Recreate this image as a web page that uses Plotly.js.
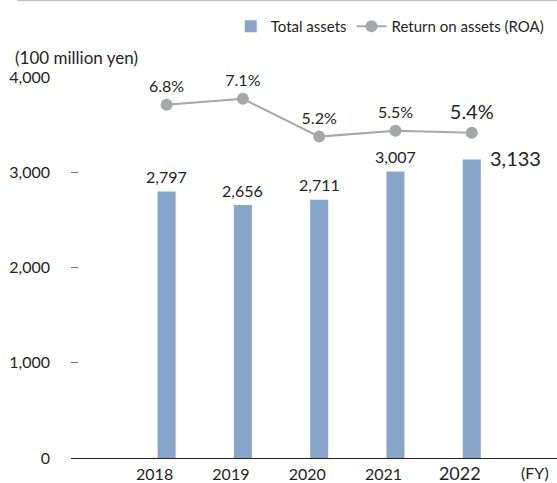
<!DOCTYPE html>
<html>
<head>
<meta charset="utf-8">
<script src="https://cdn.plot.ly/plotly-3.0.1.min.js"></script>
<style>html,body{margin:0;padding:0;background:#fff;}#chart{width:557px;height:483px;}</style>
</head>
<body>
<div id="chart"></div>
<script>
const years = ['2018', '2019', '2020', '2021', '2022'];
const totalAssets = [2797, 2656, 2711, 3007, 3133];
const roa = [6.8, 7.1, 5.2, 5.5, 5.4];
const yTickVals = [0, 1000, 2000, 3000, 4000];
const yTickLabels = ['0', '1,000', '2,000', '3,000', '4,000'];
const xTickLabels = ['2018', '2019', '2020', '2021', '<span style="font-size:18px">2022</span>'];

const FONT = 'Lato, "Open Sans", sans-serif';
const TXT = '#231f20';
const BAR = '#87a5cb';
const GREY = '#a6a7a9';

const fmt = v => String(v).replace(/\B(?=(\d{3})+(?!\d))/g, ',');
const last = years.length - 1;

const annotations = [];
years.forEach(function (yr, i) {
  if (i < last) {
    annotations.push({
      x: i, y: totalAssets[i], xref: 'x', yref: 'y',
      text: fmt(totalAssets[i]), showarrow: false,
      xanchor: 'center', yanchor: 'middle', yshift: 15,
      font: {family: FONT, size: 16, color: TXT}
    });
  } else {
    annotations.push({
      x: i, y: totalAssets[i], xref: 'x', yref: 'y',
      text: fmt(totalAssets[i]), showarrow: false,
      xanchor: 'left', yanchor: 'middle', xshift: 16, yshift: 2,
      font: {family: FONT, size: 20, color: TXT}
    });
  }
});

annotations.push({
  xref: 'paper', yref: 'paper', x: -0.119, y: 1.05, xanchor: 'left', yanchor: 'middle',
  text: '(100 million yen)', showarrow: false,
  font: {family: FONT, size: 17, color: TXT}
});
annotations.push({
  xref: 'paper', yref: 'paper', x: 0.986, y: -0.038, xanchor: 'right', yanchor: 'middle',
  text: '(FY)', showarrow: false, borderpad: 0,
  font: {family: FONT, size: 16, color: TXT}
});

const traces = [
  {
    type: 'bar', name: 'Total assets',
    x: years, y: totalAssets,
    width: 0.236,
    marker: {color: BAR},
    hoverinfo: 'skip'
  },
  {
    type: 'scatter', mode: 'lines+markers+text', name: 'Return on assets (ROA)',
    x: years, y: roa, yaxis: 'y2',
    line: {color: GREY, width: 2},
    marker: {color: GREY, size: 12},
    text: roa.map(v => v.toFixed(1) + '%'),
    textposition: 'top center',
    textfont: {family: FONT, size: roa.map((v, i) => i === last ? 20 : 16), color: TXT},
    cliponaxis: false,
    hoverinfo: 'skip'
  }
];

const layout = {
  width: 557, height: 483,
  margin: {l: 71, r: 0, t: 77, b: 25},
  paper_bgcolor: '#fff', plot_bgcolor: '#fff',
  font: {family: FONT, size: 16, color: TXT},
  showlegend: true,
  legend: {
    orientation: 'h', x: 0.983, xanchor: 'right', y: 1.176, yanchor: 'top',
    font: {family: FONT, size: 15, color: TXT},
    traceorder: 'normal', itemwidth: 30, tracegroupgap: 0,
    bgcolor: 'rgba(0,0,0,0)'
  },
  xaxis: {
    type: 'category', range: [-1.253, 5.117],
    showgrid: false, zeroline: false,
    showline: true, linecolor: '#231f20', linewidth: 1.2,
    ticks: '', tickvals: years, ticktext: xTickLabels,
    ticklabelshift: -12, ticklabelstandoff: 2,
    tickfont: {family: FONT, size: 16, color: TXT},
    fixedrange: true
  },
  yaxis: {
    range: [0, 4000],
    tickvals: yTickVals, ticktext: yTickLabels,
    ticks: 'inside', ticklen: 7, tickwidth: 1, tickcolor: '#777',
    ticklabelstandoff: 20,
    showgrid: false, zeroline: false, showline: false,
    tickfont: {family: FONT, size: 16, color: TXT},
    fixedrange: true
  },
  yaxis2: {
    overlaying: 'y', side: 'right',
    range: [-10.97, 8.2],
    visible: false, showgrid: false, zeroline: false,
    fixedrange: true
  },
  shapes: [{
    type: 'line', xref: 'paper', yref: 'paper',
    x0: -0.111, x1: 1, y0: 1.2008, y1: 1.2008,
    line: {color: '#bfbfbf', width: 1.5}
  }],
  annotations: annotations
};

Plotly.newPlot('chart', traces, layout, {staticPlot: true, displayModeBar: false});
</script>
</body>
</html>
